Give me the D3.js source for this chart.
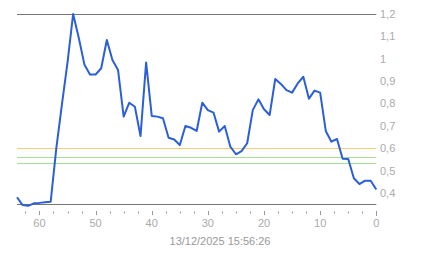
<!DOCTYPE html>
<html><head><meta charset="utf-8">
<script src="https://cdn.jsdelivr.net/npm/d3@7"></script>
<style>body{margin:0;background:#fff}svg{display:block}text{font-family:"Liberation Sans",Arial,sans-serif}</style>
</head><body><svg id="c" width="443" height="258"></svg>
<script>
const xs = [64,63,62,61,60,59,58,57,56,55,54,53,52,51,50,49,48,47,46,45,44,43,42,41,40,39,38,37,36,35,34,33,32,31,30,29,28,27,26,25,24,23,22,21,20,19,18,17,16,15,14,13,12,11,10,9,8,7,6,5,4,3,2,1,0];
const values = [0.382,0.347,0.344,0.355,0.357,0.36,0.362,0.6,0.795,0.984,1.2,1.094,0.975,0.93,0.93,0.958,1.084,0.995,0.95,0.742,0.804,0.786,0.655,0.984,0.745,0.742,0.735,0.648,0.64,0.615,0.7,0.692,0.678,0.804,0.771,0.76,0.675,0.70,0.608,0.574,0.588,0.623,0.771,0.819,0.775,0.749,0.91,0.888,0.86,0.849,0.89,0.92,0.822,0.858,0.849,0.678,0.63,0.642,0.554,0.553,0.467,0.441,0.456,0.456,0.417];
const yTicks = [0.4,0.5,0.6,0.7,0.8,0.9,1,1.1,1.2];
const xTicks = [60,50,40,30,20,10,0];
const xMinor = [62.5,57.5,55,52.5,47.5,45,42.5,37.5,35,32.5,27.5,25,22.5,17.5,15,12.5,7.5,5,2.5];
const refLines = [{v:0.6,c:"#f2cf72"},{v:0.56,c:"#a9dc96"},{v:0.535,c:"#a9dc96"}];
const topLine = 1.2;
const dateLabel = "13/12/2025 15:56:26";

const svg = d3.select("#c");
const x = d3.scaleLinear().domain([64,0]).range([17,376.3]);
const y = d3.scaleLinear().domain([0.352,1.2]).range([204,14]);
const fmt = v => String(v).replace(".",",");

refLines.forEach(r=>{
  svg.append("line").attr("x1",x(64)).attr("x2",x(0)).attr("y1",Math.round(y(r.v))+0.5).attr("y2",Math.round(y(r.v))+0.5)
    .attr("stroke",r.c).attr("stroke-width",1);
});
svg.append("line").attr("x1",x(64)).attr("x2",x(0)).attr("y1",Math.round(y(topLine))+0.5).attr("y2",Math.round(y(topLine))+0.5).attr("stroke","#777");
svg.append("line").attr("x1",x(64)).attr("x2",x(0)).attr("y1",204.5).attr("y2",204.5).attr("stroke","#777");

// y labels
svg.selectAll(".yl").data(yTicks).enter().append("text")
  .attr("x",380).attr("y",d=>y(d)).attr("dy","0.35em").attr("font-size",11).attr("fill","#aaa").text(fmt);

// x axis
const xa = svg.append("g").attr("transform","translate(0,211)");
xa.selectAll(".mj").data(xTicks).enter().append("line")
  .attr("x1",d=>Math.round(x(d))+0.5).attr("x2",d=>Math.round(x(d))+0.5).attr("y1",0).attr("y2",d=>d===0?5:4).attr("stroke","#999");
xa.selectAll(".mn").data(xMinor).enter().append("line")
  .attr("x1",d=>Math.round(x(d))+0.5).attr("x2",d=>Math.round(x(d))+0.5).attr("y1",0.5).attr("y2",2.5).attr("stroke","#999");
xa.selectAll(".xl").data(xTicks).enter().append("text")
  .attr("x",d=>x(d)).attr("y",12).attr("dy","0.35em").attr("text-anchor","middle").attr("font-size",11).attr("fill","#aaa").text(d=>d);
svg.append("text").attr("x",220).attr("y",241).attr("dy","0.35em").attr("text-anchor","middle").attr("font-size",11).attr("fill","#999").text(dateLabel);

const line = d3.line().x((d,i)=>x(xs[i])).y(d=>y(d));
svg.append("path").datum(values).attr("d",line).attr("fill","none").attr("stroke","#2b5fd9").attr("stroke-width",2).attr("stroke-linejoin","round");
</script></body></html>
